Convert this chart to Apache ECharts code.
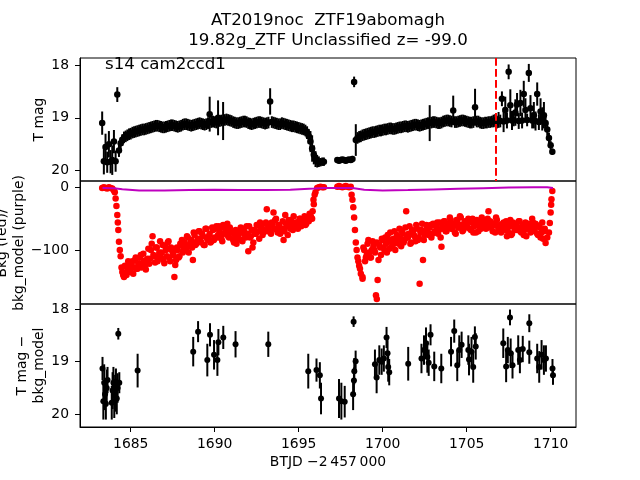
<!DOCTYPE html>
<html><head><meta charset="utf-8">
<script src="https://cdn.jsdelivr.net/npm/echarts@6/dist/echarts.min.js"></script>
<style>html,body{margin:0;padding:0;background:#fff}#c{width:640px;height:480px}</style>
</head><body><div id="c"></div>
<script>
// ---------- data ----------
const xTicks = [1685, 1690, 1695, 1700, 1705, 1710];
const magTicks = [18, 19, 20];
const bkgTicks = [-100, 0];
const sectorTime = 1706.73; // red dashed line

// orbit 1 light curve
const time1 = [
1683.3,1683.4,1683.5,1683.6,1683.7,1683.8,1683.9,1684.0,1684.1,1684.2,
1684.3,1684.4,1684.5,1684.6,1684.7,1684.8,1684.9,1685.0,1685.1,1685.2,
1685.3,1685.4,1685.5,1685.6,1685.7,1685.8,1685.9,1686.0,1686.1,1686.2,
1686.3,1686.4,1686.5,1686.6,1686.7,1686.8,1686.9,1687.0,1687.1,1687.2,
1687.3,1687.4,1687.5,1687.6,1687.7,1687.8,1687.9,1688.0,1688.1,1688.2,
1688.3,1688.4,1688.5,1688.6,1688.7,1688.8,1688.9,1689.0,1689.1,1689.2,
1689.3,1689.4,1689.5,1689.6,1689.7,1689.8,1689.9,1690.0,1690.1,1690.2,
1690.3,1690.4,1690.5,1690.6,1690.7,1690.8,1690.9,1691.0,1691.1,1691.2,
1691.3,1691.4,1691.5,1691.6,1691.7,1691.8,1691.9,1692.0,1692.1,1692.2,
1692.3,1692.4,1692.5,1692.6,1692.7,1692.8,1692.9,1693.0,1693.1,1693.2,
1693.3,1693.4,1693.5,1693.6,1693.7,1693.8,1693.9,1694.0,1694.1,1694.2,
1694.3,1694.4,1694.5,1694.6,1694.7,1694.8,1694.9,1695.0,1695.1,1695.2,
1695.3,1695.4,1695.5,1695.6,1695.7,1695.8,1695.9,1696.0,1696.1,1696.2,
1696.3,1696.4,1696.5];
const mag1 = [
19.10,19.82,19.55,19.84,19.50,19.83,19.80,19.45,19.82,18.56,
19.62,19.48,19.42,19.37,19.35,19.33,19.31,19.30,19.28,19.27,
19.26,19.25,19.24,19.23,19.22,19.22,19.21,19.20,19.19,19.18,
19.17,19.16,19.15,19.15,19.16,19.17,19.18,19.18,19.17,19.16,
19.15,19.14,19.14,19.15,19.16,19.17,19.16,19.15,19.13,19.12,
19.12,19.13,19.14,19.15,19.14,19.13,19.12,19.11,19.10,19.11,
19.12,19.13,19.12,19.10,18.93,19.08,19.07,19.08,19.09,19.00,
19.06,19.05,19.06,19.04,19.03,19.04,19.05,19.06,19.08,19.09,
19.10,19.10,19.09,19.08,19.07,19.07,19.08,19.10,19.11,19.12,
19.11,19.10,19.09,19.08,19.08,19.09,19.10,19.11,19.10,19.09,
18.69,19.08,19.09,19.10,19.11,19.12,19.12,19.10,19.11,19.12,
19.13,19.14,19.15,19.16,19.16,19.17,19.18,19.19,19.20,19.21,
19.22,19.24,19.28,19.35,19.45,19.58,19.70,19.78,19.82,19.83,
19.84,19.83,19.83];
const err1 = [
.22,.25,.25,.20,.25,.22,.28,.22,.20,.14,
.12,.11,.11,.11,.11,.11,.11,.11,.11,.11,
.11,.11,.11,.11,.11,.11,.11,.11,.11,.11,
.11,.11,.11,.11,.11,.11,.11,.11,.11,.11,
.11,.11,.11,.11,.11,.11,.11,.11,.11,.11,
.11,.11,.11,.11,.11,.11,.11,.11,.11,.11,
.11,.11,.11,.11,.33,.11,.11,.11,.11,.33,
.11,.11,.36,.11,.11,.11,.11,.11,.11,.11,
.11,.11,.11,.11,.11,.11,.11,.11,.11,.11,
.11,.11,.11,.11,.11,.11,.11,.11,.11,.11,
.25,.11,.11,.11,.11,.11,.11,.11,.11,.11,
.11,.11,.11,.11,.11,.11,.11,.11,.11,.11,
.11,.11,.12,.14,.20,.25,.18,.15,.12,.10,
.08,.08,.08];
const bkg1 = [
-1,0,-1,-2,0,-1,-2,-5,-18,-44,
-87,-110,-135,-143,-138,-130,-122,-135,-118,-128,
-112,-130,-121,-108,-126,-117,-131,-114,-122,-100,
-78,-110,-96,-118,-104,-112,-92,-121,-100,-88,
-112,-96,-104,-143,-116,-100,-110,-92,-104,-88,
-98,-80,-94,-84,-116,-76,-90,-82,-70,-88,
-78,-92,-66,-84,-74,-86,-68,-80,-62,-76,
-70,-82,-60,-74,-66,-78,-64,-72,-84,-76,
-90,-78,-70,-84,-66,-76,-62,-102,-80,-68,
-88,-74,-60,-70,-56,-66,-72,-58,-35,-62,
-70,-56,-40,-52,-68,-60,-74,-66,-84,-44,
-62,-52,-66,-58,-46,-64,-56,-62,-50,-58,
-52,-60,-48,-54,-44,-50,-27,-8,-1,0,
1,0,0];

// orbit 2 light curve
const time2 = [
1697.3,1697.4,1697.5,1697.6,1697.7,1697.8,1697.9,1698.0,1698.1,1698.2,
1698.3,1698.4,1698.5,1698.6,1698.7,1698.8,1698.9,1699.0,1699.1,1699.2,
1699.3,1699.4,1699.5,1699.6,1699.7,1699.8,1699.9,1700.0,1700.1,1700.2,
1700.3,1700.4,1700.5,1700.6,1700.7,1700.8,1700.9,1701.0,1701.1,1701.2,
1701.3,1701.4,1701.5,1701.6,1701.7,1701.8,1701.9,1702.0,1702.1,1702.2,
1702.3,1702.4,1702.5,1702.6,1702.7,1702.8,1702.9,1703.0,1703.1,1703.2,
1703.3,1703.4,1703.5,1703.6,1703.7,1703.8,1703.9,1704.0,1704.1,1704.2,
1704.3,1704.4,1704.5,1704.6,1704.7,1704.8,1704.9,1705.0,1705.1,1705.2,
1705.3,1705.4,1705.5,1705.6,1705.7,1705.8,1705.9,1706.0,1706.1,1706.2,
1706.3,1706.4,1706.5,1706.6,1706.7,1706.8,1706.9,1707.0,1707.1,1707.2,
1707.3,1707.4,1707.5,1707.6,1707.7,1707.8,1707.9,1708.0,1708.1,1708.2,
1708.3,1708.4,1708.5,1708.6,1708.7,1708.8,1708.9,1709.0,1709.1,1709.2,
1709.3,1709.4,1709.5,1709.6,1709.7,1709.8,1709.9,1710.0,1710.1];
const mag2 = [
19.80,19.81,19.80,19.79,19.80,19.81,19.80,19.79,19.80,19.78,
18.32,19.42,19.38,19.36,19.35,19.33,19.32,19.31,19.30,19.29,
19.28,19.27,19.27,19.26,19.25,19.24,19.24,19.23,19.22,19.22,
19.21,19.20,19.20,19.21,19.21,19.20,19.19,19.18,19.18,19.17,
19.16,19.16,19.17,19.16,19.15,19.14,19.13,19.13,19.14,19.15,
19.14,19.13,19.12,19.11,19.10,19.10,19.09,19.08,19.08,19.09,
19.10,19.10,19.09,19.07,19.06,19.05,19.05,19.06,19.07,18.86,
19.08,19.08,19.07,19.06,19.05,19.05,19.06,19.07,19.08,19.09,
19.09,19.08,18.80,19.07,19.07,19.09,19.10,19.10,19.09,19.09,
19.08,19.08,19.07,19.06,19.05,19.08,19.04,19.06,18.64,19.07,
18.85,19.05,18.13,18.76,19.05,19.04,18.90,18.75,19.06,18.72,
19.05,18.55,18.85,19.04,18.15,18.82,19.05,18.95,19.06,18.55,
19.08,18.88,19.02,18.95,19.10,19.22,19.38,19.52,19.64];
const err2 = [
.05,.05,.05,.05,.05,.05,.05,.05,.05,.06,
.10,.30,.11,.11,.11,.11,.11,.11,.11,.11,
.11,.11,.11,.11,.11,.11,.11,.11,.11,.11,
.11,.11,.11,.11,.11,.11,.11,.11,.11,.11,
.11,.11,.11,.11,.11,.11,.11,.11,.11,.11,
.11,.11,.11,.11,.11,.34,.11,.11,.11,.11,
.11,.11,.11,.11,.11,.11,.11,.11,.11,.28,
.11,.11,.11,.11,.11,.11,.11,.11,.11,.11,
.11,.11,.35,.11,.11,.11,.11,.11,.11,.11,
.11,.11,.11,.12,.12,.12,.15,.12,.14,.20,
.25,.15,.14,.30,.18,.12,.25,.22,.15,.25,
.15,.25,.22,.12,.17,.25,.15,.25,.18,.22,
.15,.25,.22,.25,.15,.12,.10,.08,.06];
const bkg2 = [
1,2,1,0,1,2,1,0,1,-20,
-48,-88,-112,-125,-138,-146,-100,-112,-90,-104,
-112,-86,-100,-172,-148,-92,-108,-84,-100,-90,
-76,-98,-84,-92,-70,-88,-80,-66,-94,-74,
-84,-38,-80,-62,-88,-72,-78,-60,-84,-154,
-68,-116,-76,-60,-72,-64,-80,-58,-70,-62,
-74,-56,-95,-66,-54,-70,-60,-48,-66,-58,
-72,-52,-64,-46,-60,-68,-54,-62,-50,-66,
-56,-72,-60,-52,-70,-64,-48,-62,-56,-62,
-38,-54,-62,-58,-72,-52,-66,-60,-70,-56,
-64,-78,-60,-52,-74,-62,-58,-68,-54,-70,
-62,-76,-56,-66,-60,-72,-50,-64,-58,-74,
-62,-80,-56,-70,-89,-80,-72,-40,-6];

// background samples between the grid above (denser cloud)
const bkgMidT = [
1684.65,1684.75,1684.85,1684.95,1685.05,1685.15,1685.25,1685.35,1685.45,
1685.55,1685.65,1685.75,1685.85,1685.95,
1686.05,1686.15,1686.25,1686.35,1686.45,1686.55,1686.65,1686.75,1686.85,1686.95,
1687.05,1687.15,1687.25,1687.35,1687.45,1687.55,1687.65,1687.75,1687.85,1687.95,
1688.05,1688.15,1688.25,1688.35,1688.45,1688.55,1688.65,1688.75,1688.85,1688.95,
1689.05,1689.15,1689.25,1689.35,1689.45,1689.55,1689.65,1689.75,1689.85,1689.95,
1690.05,1690.15,1690.25,1690.35,1690.45,1690.55,1690.65,1690.75,1690.85,1690.95,
1691.05,1691.15,1691.25,1691.35,1691.45,1691.55,1691.65,1691.75,1691.85,1691.95,
1692.05,1692.15,1692.25,1692.35,1692.45,1692.55,1692.65,1692.75,1692.85,1692.95,
1693.05,1693.15,1693.25,1693.35,1693.45,1693.55,1693.65,1693.75,1693.85,1693.95,
1694.05,1694.15,1694.25,1694.35,1694.45,1694.55,1694.65,1694.75,1694.85,1694.95,
1695.05,1695.15,1695.25,1695.35,1695.45,1695.55,1695.65,1695.75,
1698.85,1698.95,1699.05,1699.15,1699.25,1699.35,1699.45,
1699.55,1699.65,1699.75,1699.85,1699.95,
1700.05,1700.15,1700.25,1700.35,1700.45,1700.55,1700.65,1700.75,1700.85,1700.95,
1701.05,1701.15,1701.25,1701.35,1701.45,1701.55,1701.65,1701.75,1701.85,1701.95,
1702.05,1702.15,1702.25,1702.35,1702.45,1702.55,1702.65,1702.75,1702.85,1702.95,
1703.05,1703.15,1703.25,1703.35,1703.45,1703.55,1703.65,1703.75,1703.85,1703.95,
1704.05,1704.15,1704.25,1704.35,1704.45,1704.55,1704.65,1704.75,1704.85,1704.95,
1705.05,1705.15,1705.25,1705.35,1705.45,1705.55,1705.65,1705.75,1705.85,1705.95,
1706.05,1706.15,1706.25,1706.35,1706.45,1706.55,1706.65,1706.75,1706.85,1706.95,
1707.05,1707.15,1707.25,1707.35,1707.45,1707.55,1707.65,1707.75,1707.85,1707.95,
1708.05,1708.15,1708.25,1708.35,1708.45,1708.55,1708.65,1708.75,1708.85,1708.95,
1709.05,1709.15,1709.25,1709.35,1709.45,1709.55,1709.65];
const bkgMidV = [
-125,-140,-118,-132,-124,-138,-116,-130,-122,
-112,-128,-106,-124,-116,
-98,-114,-90,-108,-120,-96,-110,-86,-104,-116,
-94,-110,-86,-118,-100,-108,-124,-96,-112,-90,
-84,-100,-92,-78,-104,-88,-96,-72,-92,-86,
-70,-86,-74,-92,-66,-82,-78,-88,-64,-84,
-66,-80,-62,-76,-86,-64,-72,-58,-80,-70,
-72,-88,-68,-82,-74,-64,-86,-70,-80,-74,
-62,-78,-96,-68,-74,-60,-82,-64,-76,-68,
-56,-70,-62,-74,-58,-66,-50,-72,-60,-68,
-54,-70,-58,-76,-62,-52,-68,-60,-56,-66,
-50,-62,-54,-46,-58,-52,-42,-48,
-96,-118,-108,-84,-112,-100,-94,
-104,-88,-116,-96,-82,
-96,-80,-104,-86,-72,-94,-82,-100,-76,-90,
-82,-70,-88,-64,-80,-74,-90,-68,-76,-86,
-66,-80,-72,-58,-84,-70,-64,-76,-60,-74,
-60,-72,-56,-68,-80,-62,-54,-70,-64,-58,
-52,-66,-60,-74,-56,-64,-48,-70,-58,-62,
-64,-54,-68,-50,-62,-72,-56,-60,-66,-52,
-58,-66,-50,-64,-56,-70,-60,-48,-62,-68,
-72,-58,-66,-54,-70,-62,-76,-56,-68,-60,
-66,-54,-72,-60,-68,-78,-58,-64,-70,-56,
-70,-60,-76,-64,-72,-82,-66];

// extra background samples on the steep edges
const bkgExtraT = [1684.05,1684.15,1684.23,1684.26,1684.35,1684.45,1684.55,1695.83,1695.88,1695.95,
  1698.15,1698.25,1698.35,1698.45,1698.55,1698.65,1698.8,1699.65,1709.95,1710.03,1710.05];
const bkgExtraV = [-8,-30,-56,-68,-100,-128,-140,-38,-20,-12,
  -12,-32,-68,-100,-118,-130,-143,-178,-57,-28,-19];

// background model (purple)
const modelT = [1683.32,1684.0,1684.5,1685.5,1687.0,1688.5,1690.0,1691.5,1693.0,1694.5,1695.9,1696.5,
  1697.3,1698.2,1698.9,1700.0,1701.5,1703.0,1704.5,1706.0,1707.5,1709.0,1709.8,1710.14];
const modelV = [-1,-1.5,-3,-5,-5,-4.5,-4,-4.5,-4.5,-4,-2,-1,
  -1,-1,-4,-5,-4.5,-3.5,-2.5,-1.5,-0.5,0,0,-1];

// T mag - bkg_model
const bt = [1683.32,1683.37,1683.42,1683.47,1683.52,1683.57,1683.62,1683.87,1683.92,1683.97,1684.02,1684.07,1684.12,1684.17,1684.22,1684.26,1684.32,
1685.41,1688.72,1689.01,1689.56,1689.72,1689.96,1690.16,1690.22,1690.51,1691.24,1693.19,1695.57,1696.06,1696.26,1696.33,
1697.40,1697.54,1697.74,1698.24,1698.29,1698.31,1698.39,1698.27,
1699.54,1699.64,1699.80,1699.94,1700.07,1700.23,1700.29,1700.33,1700.39,
1701.52,1702.31,1702.46,1702.58,1702.66,1702.74,1702.85,1703.07,1703.49,
1704.07,1704.26,1704.44,1704.56,1704.70,1705.10,1705.14,1705.29,1705.39,1705.49,1705.54,
1707.18,1707.35,1707.45,1707.58,1707.62,1707.73,1708.07,1708.17,1708.34,1708.73,1708.73,
1709.20,1709.32,1709.46,1709.60,1709.72,1710.11,1710.14];
const bm = [19.13,19.75,19.40,19.62,19.80,19.50,19.35,19.78,19.55,19.40,19.75,19.60,19.38,19.70,19.50,18.47,19.40,
19.17,18.81,18.43,18.97,18.49,18.87,18.97,18.63,18.54,18.67,18.67,19.18,19.16,19.26,19.70,
19.70,19.75,19.76,19.62,19.36,19.18,18.99,18.24,
19.05,19.30,18.97,19.00,18.94,18.54,18.84,19.10,19.20,
19.04,18.94,18.78,18.65,18.91,19.02,18.49,19.09,19.13,
18.81,18.42,19.07,18.78,18.68,18.78,18.96,18.81,19.10,18.53,18.71,
18.65,19.09,18.78,18.16,18.84,19.07,18.78,18.97,18.76,18.27,18.82,
18.94,19.10,18.87,18.97,18.94,19.13,19.26];
const be = [0.22,0.35,0.35,0.30,0.30,0.35,0.25,0.32,0.35,0.30,0.32,0.35,0.25,0.30,0.28,0.11,0.20,
0.32,0.28,0.20,0.31,0.22,0.28,0.30,0.25,0.22,0.25,0.24,0.33,0.22,0.25,0.30,
0.37,0.35,0.30,0.30,0.25,0.25,0.20,0.10,
0.28,0.30,0.28,0.25,0.25,0.20,0.25,0.28,0.25,
0.32,0.28,0.28,0.30,0.30,0.25,0.20,0.28,0.28,
0.28,0.22,0.30,0.28,0.25,0.28,0.30,0.28,0.30,0.20,0.25,
0.28,0.30,0.25,0.15,0.28,0.25,0.28,0.25,0.25,0.17,0.22,
0.28,0.30,0.28,0.28,0.25,0.18,0.18];

// ---------- chart ----------
const FONT = 'DejaVu Sans';
const zip3 = (a, b, c) => a.slice(0, Math.min(a.length, b.length, c.length)).map((v, i) => [v, b[i], c[i]]);
const zip2 = (a, b) => a.slice(0, Math.min(a.length, b.length)).map((v, i) => [v, b[i]]);
const topData = zip3(time1, mag1, err1).concat(zip3(time2, mag2, err2));
const bkgData = zip2(time1, bkg1).concat(zip2(time2, bkg2), zip2(bkgMidT, bkgMidV), zip2(bkgExtraT, bkgExtraV));
const modelData = zip2(modelT, modelV);
const botData = zip3(bt, bm, be);

const XMIN = 1681.98, XMAX = 1711.51;
const L = 80, W = 496, H = 123;
const minus = v => String(v).replace('-', '\u2212');

function errBar(params, api) {
  const x = api.value(0), y = api.value(1), e = api.value(2);
  const p1 = api.coord([x, y - e]), p2 = api.coord([x, y + e]);
  return {type: 'line', shape: {x1: p1[0], y1: p1[1], x2: p2[0], y2: p2[1]},
    style: {stroke: '#000', lineWidth: 2}};
}
function yAxis(idx, min, max, ticks, inverse) {
  return {gridIndex: idx, type: 'value', min: min, max: max, inverse: inverse,
    axisLine: {show: true, lineStyle: {color: '#000', width: 1}},
    axisTick: {show: true, length: 5, customValues: ticks, lineStyle: {color: '#000', width: 1}},
    axisLabel: {customValues: ticks, formatter: minus, color: '#000', fontSize: 13.9, fontFamily: FONT, margin: 11},
    splitLine: {show: false}};
}
function xAxis(idx, shown) {
  return {gridIndex: idx, type: 'value', min: XMIN, max: XMAX,
    axisLine: {show: shown, onZero: false, lineStyle: {color: '#000', width: 1}},
    axisTick: {show: shown, length: 5, customValues: xTicks, lineStyle: {color: '#000', width: 1}},
    axisLabel: {show: shown, customValues: xTicks, formatter: v => String(v), color: '#000', fontSize: 13.9, fontFamily: FONT, margin: 10},
    splitLine: {show: false}};
}
const txt = (text, x, y, size, rot, align) => ({type: 'text', x: x, y: y, rotation: rot || 0,
  style: {text: text, fontSize: size, fontFamily: FONT, fill: '#000', textAlign: align || 'center', textVerticalAlign: 'middle'}});

const chart = echarts.init(document.getElementById('c'), null, {renderer: 'canvas', width: 640, height: 480});
chart.setOption({
  animation: false,
  backgroundColor: '#fff',
  grid: [0, 1, 2].map(i => ({left: L, top: 58 + i * H, width: W, height: H, show: true,
    borderColor: '#000', borderWidth: 1, backgroundColor: 'transparent', containLabel: false})),
  xAxis: [xAxis(0, false), xAxis(1, false), xAxis(2, true)],
  yAxis: [yAxis(0, 17.868, 20.195, magTicks, true), yAxis(1, -186.1, 10.05, bkgTicks, false),
    yAxis(2, 17.905, 20.241, magTicks, true)],
  series: [
    {type: 'custom', xAxisIndex: 0, yAxisIndex: 0, data: topData, renderItem: errBar, clip: true,
      encode: {x: 0, y: 1}, silent: true},
    {type: 'scatter', xAxisIndex: 0, yAxisIndex: 0, data: topData, symbolSize: 6.5,
      itemStyle: {color: '#000', opacity: 1}, silent: true,
      markLine: {silent: true, symbol: ['none', 'none'], label: {show: false},
        lineStyle: {color: '#ff0000', width: 2, type: [7.7, 3.3], opacity: 1},
        emphasis: {disabled: true}, data: [{xAxis: sectorTime}]}},
    {type: 'scatter', xAxisIndex: 1, yAxisIndex: 1, data: bkgData, symbolSize: 6.5,
      itemStyle: {color: '#ff0000', opacity: 1}, silent: true},
    {type: 'line', xAxisIndex: 1, yAxisIndex: 1, data: modelData, showSymbol: false, symbol: 'none',
      lineStyle: {color: '#bf00bf', width: 2}, silent: true, z: 5},
    {type: 'custom', xAxisIndex: 2, yAxisIndex: 2, data: botData, renderItem: errBar, clip: true,
      encode: {x: 0, y: 1}, silent: true},
    {type: 'scatter', xAxisIndex: 2, yAxisIndex: 2, data: botData, symbolSize: 6,
      itemStyle: {color: '#000', opacity: 1}, silent: true}
  ],
  graphic: [
    txt('AT2019noc  ZTF19abomagh', 328, 21, 16.67),
    txt('19.82g_ZTF Unclassified z= -99.0', 328, 41, 16.67),
    txt('s14 cam2ccd1', 105, 65, 16.67, 0, 'left'),
    txt('T mag', 39, 119.5, 13.9, Math.PI / 2),
    txt('Bkg (red)/', 2.8, 243, 13.9, Math.PI / 2),
    txt('bkg_model (purple)', 19.5, 243, 13.9, Math.PI / 2),
    txt('T mag \u2212', 22.5, 365.5, 13.9, Math.PI / 2),
    txt('bkg_model', 39.5, 365.5, 13.9, Math.PI / 2),
    txt('BTJD \u22122\u2009457\u2009000', 328, 462, 13.9)
  ]
});
</script></body></html>
